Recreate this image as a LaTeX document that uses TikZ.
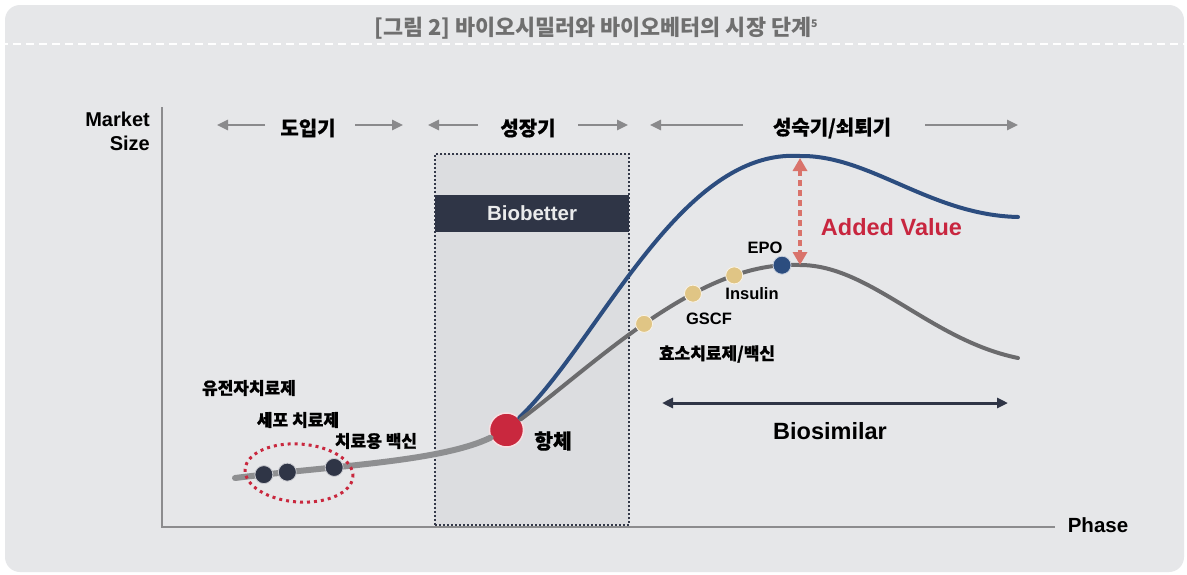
\documentclass[tikz,border=0pt]{standalone}
\usepackage{fontspec}
\setmainfont{Liberation Sans}
\newfontfamily\kr[FakeBold=0.6]{Noto Sans CJK KR}
\newfontfamily\krtitle{Noto Sans CJK KR}
\usetikzlibrary{arrows.meta,shapes.geometric}

\definecolor{pagebg}{HTML}{FFFFFF}
\definecolor{panelbg}{HTML}{E6E7E9}
\definecolor{boxbg}{HTML}{DCDDE0}
\definecolor{boxline}{HTML}{343949}
\definecolor{navy}{HTML}{2F3546}
\definecolor{axisgray}{HTML}{8C8C8E}
\definecolor{arrowgray}{HTML}{8A8A8C}
\definecolor{titlegray}{HTML}{6F6F6F}
\definecolor{bioblue}{HTML}{2C4D7F}
\definecolor{simgray}{HTML}{6B6B6D}
\definecolor{earlygray}{HTML}{8E8F91}
\definecolor{abred}{HTML}{C9283E}
\definecolor{gold}{HTML}{E0C585}
\definecolor{salmon}{HTML}{D9736B}
\definecolor{valuered}{HTML}{C8263F}

\begin{document}
\begin{tikzpicture}[x=1pt,y=-1pt,
  txt/.style={inner sep=0pt, text=black, font=\bfseries\fontsize{17}{20}\selectfont},
  krtxt/.style={inner sep=0pt, text=black, font=\kr\bfseries\fontsize{17}{20}\selectfont},
  phasetxt/.style={inner sep=0pt, text=black, font=\kr\bfseries\fontsize{20}{24}\selectfont},
  phasearrow/.style={draw=arrowgray, line width=2.5pt, -{Triangle[length=11pt,width=10pt]}},
  dot/.style={circle, inner sep=0pt, minimum size=18pt, draw=white!75!navy, line width=0.8pt},
  darkdot/.style={dot, fill=navy},
  golddot/.style={dot, fill=gold, draw=white!80!gold, minimum size=17pt},
  epodot/.style={dot, fill=bioblue, draw=white!75!bioblue},
]
% page and panel
\useasboundingbox (0,0) rectangle (1187,574);
\fill[pagebg] (0,0) rectangle (1187,574);
\fill[panelbg, rounded corners=15pt] (5,5) rectangle (1184,572);
\draw[white, line width=2.5pt, dash pattern=on 8pt off 5pt] (0,44) -- (1187,44);

% title
\node[inner sep=0pt, text=titlegray, font=\krtitle\bfseries\fontsize{21.8}{26}\selectfont] (title) at (596,28)
  {[그림 2] 바이오시밀러와 바이오베터의 시장 단계\raisebox{8pt}{\fontsize{10.5}{10}\selectfont 5}};

% growth-phase box
\node[draw=boxline, fill=boxbg, line width=2.2pt, dash pattern=on 2pt off 2pt,
      minimum width=194pt, minimum height=371pt, inner sep=0pt] (growth) at (532,339.5) {};
\node[fill=navy, minimum width=194pt, minimum height=37pt, inner sep=0pt,
      text=white!90!navy, font=\bfseries\fontsize{20.5}{24}\selectfont] (biobetter) at (532,213.5) {Biobetter};

% axes
\coordinate (ytop) at (162,107);
\coordinate (xend) at (1055,527);
\draw[axisgray, line width=2pt] (ytop) |- (xend);
\node[txt, align=right, anchor=north east, font=\bfseries\fontsize{20}{24}\selectfont] (ylabel) at (150,112) {Market\\Size};
\node[txt, font=\bfseries\fontsize{20.5}{24}\selectfont] (xlabel) at (1098,525) {Phase};

% phase headings
\node[phasetxt] (intro) at (308,128) {도입기};
\node[phasetxt] (grow) at (528,128) {성장기};
\node[phasetxt] (mature) at (832,128) {성숙기/쇠퇴기};
\coordinate (a1s) at (265,125); \coordinate (a1e) at (217,125);
\coordinate (a2s) at (355,125); \coordinate (a2e) at (403,125);
\coordinate (a3s) at (478,125); \coordinate (a3e) at (428,125);
\coordinate (a4s) at (578,125); \coordinate (a4e) at (628,125);
\coordinate (a5s) at (743,125); \coordinate (a5e) at (650,125);
\coordinate (a6s) at (925,125); \coordinate (a6e) at (1018,125);
\foreach \s/\e in {a1s/a1e,a2s/a2e,a3s/a3e,a4s/a4e,a5s/a5e,a6s/a6e}
  \draw[phasearrow] (\s) -- (\e);

% antibody point
\node[circle, fill=abred, draw=white!85!abred, line width=1.5pt, minimum size=34pt, inner sep=0pt] (ab) at (506.5,430) {};

% early curve with new-modality points
\coordinate (early) at (235,478);
\draw[earlygray, line width=6pt, line cap=round] (early) .. controls (330,466) and (440,462) .. (ab)
  node[darkdot, pos=0.10] (gene) {}
  node[darkdot, pos=0.18] (cell) {}
  node[darkdot, pos=0.34] (vaccine) {};

% biobetter and biosimilar curves
\coordinate (bbpeak) at (800,156);
\coordinate (bbend) at (1018,217);
\coordinate (bspeak) at (800,265);
\coordinate (bsend) at (1018,358);
\draw[bioblue, line width=4pt, line cap=round] (ab) .. controls (600,340) and (680,148) .. (bbpeak)
  .. controls (870,155) and (930,215) .. (bbend);
\draw[simgray, line width=4pt, line cap=round] (ab) .. controls (600,360) and (700,260) .. (bspeak)
  node[golddot, pos=0.47] (enzyme) {}
  node[golddot, pos=0.64] (gscf) {}
  node[golddot, pos=0.78] (insulin) {}
  node[epodot, pos=0.94] (epo) {};
\draw[simgray, line width=4pt, line cap=round] (bspeak) .. controls (870,265) and (930,340) .. (bsend);

% early-stage group
\node[draw=abred, line width=3pt, dash pattern=on 3pt off 4pt, ellipse, rotate=-4,
      minimum width=108pt, minimum height=58pt, inner sep=0pt] (group) at (299,473) {};

% added value
\coordinate (avtop) at (800,158);
\coordinate (avbot) at (800,265);
\draw[salmon, line width=4pt, dash pattern=on 6pt off 4pt,
      {Triangle[length=13pt,width=14pt]}-{Triangle[length=13pt,width=14pt]}] (avtop) -- (avbot);
\node[inner sep=0pt, text=valuered, font=\bfseries\fontsize{23.5}{28}\selectfont] (value) at (891.5,227) {Added Value};

% biosimilar span
\coordinate (bsL) at (662,403);
\coordinate (bsR) at (1008,403);
\draw[navy, line width=3pt, {Triangle[length=11pt,width=10pt]}-{Triangle[length=11pt,width=10pt]}] (bsL) -- (bsR);
\node[txt, font=\bfseries\fontsize{23.5}{28}\selectfont] (biosim) at (830,431) {Biosimilar};

% point labels
\node[krtxt] (genelbl) at (249,388) {유전자치료제};
\node[krtxt] (celllbl) at (298,420) {세포 치료제};
\node[krtxt] (vaclbl) at (376,441) {치료용 백신};
\node[krtxt, font=\kr\bfseries\fontsize{20.5}{24}\selectfont] (ablbl) at (553,441) {항체};
\node[txt, font=\bfseries\fontsize{16.5}{20}\selectfont] (epolbl) at (765,248) {EPO};
\node[txt, font=\bfseries\fontsize{16.5}{20}\selectfont] (inslbl) at (752,294) {Insulin};
\node[txt, font=\bfseries\fontsize{16.5}{20}\selectfont] (gscflbl) at (709,318.5) {GSCF};
\node[krtxt] (enzlbl) at (717,354) {효소치료제/백신};
\end{tikzpicture}
\end{document}
